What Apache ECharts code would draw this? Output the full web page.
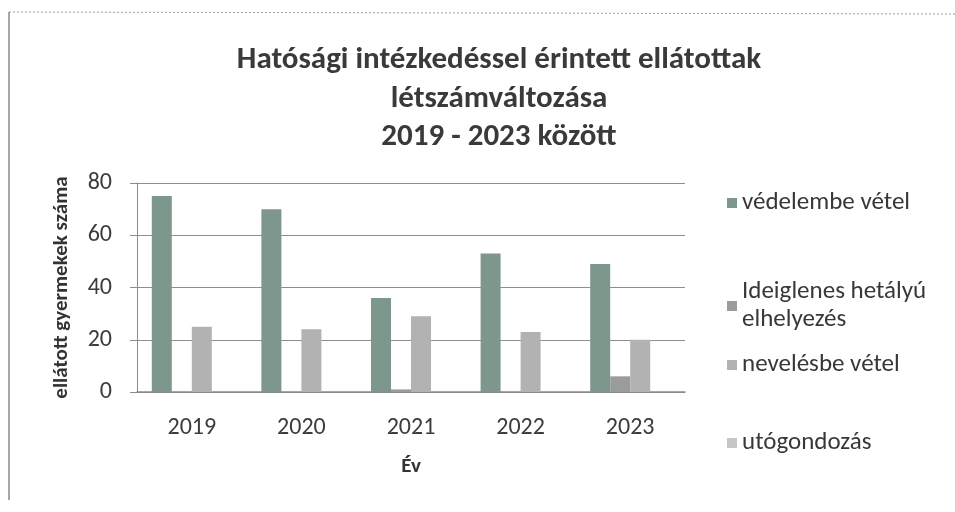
<!DOCTYPE html>
<html><head><meta charset="utf-8">
<script src="https://cdn.jsdelivr.net/npm/echarts@6/dist/echarts.min.js"></script>
<style>html,body{margin:0;padding:0;background:#fff}#c{width:955px;height:512px}</style>
</head><body><div id="c"></div>
<script>
const categories = ['2019', '2020', '2021', '2022', '2023'];
const seriesNames = ['védelembe vétel', 'Ideiglenes hetályú elhelyezés', 'nevelésbe vétel', 'utógondozás'];
const vedelembe = [75, 70, 36, 53, 49];
const ideiglenes = [0, 0, 1, 0, 6];
const neveles = [25, 24, 29, 23, 20];
const utogondozas = [0, 0, 0, 0, 0];
const yTicks = [0, 20, 40, 60, 80];

const font = "Carlito, 'Open Sans', 'Noto Sans', sans-serif";
const colors = ['#7d978c', '#9a9c9b', '#b2b2b2', '#c6c6c6'];
const values = [vedelembe, ideiglenes, neveles, utogondozas];
const legendTops = [184, 273, 346, 424];

const chart = echarts.init(document.getElementById('c'));
chart.setOption({
  backgroundColor: '#ffffff',
  animation: false,
  title: {
    text: 'Hatósági intézkedéssel érintett ellátottak\nlétszámváltozása\n2019 - 2023 között',
    left: 494, top: 36, textAlign: 'center',
    textStyle: { fontFamily: font, fontSize: 31, fontWeight: 'bold', color: '#3a3a3a', lineHeight: 38.5 }
  },
  legend: seriesNames.map((n, i) => ({
    data: [n], orient: 'vertical', left: 722, top: legendTops[i],
    icon: 'rect', itemWidth: 10, itemHeight: 10, itemGap: 4,
    formatter: name => name === 'Ideiglenes hetályú elhelyezés' ? 'Ideiglenes hetályú\nelhelyezés' : name,
    textStyle: { fontFamily: font, fontSize: 25, color: '#383838', lineHeight: 28 }
  })),
  grid: { left: 137, right: 270, top: 183, bottom: 120, containLabel: false },
  xAxis: {
    type: 'category', data: categories,
    name: 'Év', nameLocation: 'middle', nameGap: 64,
    nameTextStyle: { fontFamily: font, fontSize: 21, fontWeight: 'bold', color: '#333333' },
    axisLine: { lineStyle: { color: '#8a8a8a', width: 1.5 } },
    axisTick: { show: false },
    axisLabel: { fontFamily: font, fontSize: 24, color: '#3c3c3c', margin: 24 }
  },
  yAxis: {
    type: 'value', min: 0, max: 80, interval: 20,
    name: 'ellátott gyermekek száma', nameLocation: 'middle', nameGap: 65,
    nameTextStyle: { fontFamily: font, fontSize: 21, fontWeight: 'bold', color: '#333333' },
    axisLine: { show: true, lineStyle: { color: '#8a8a8a' } },
    axisTick: { show: true, length: 7, inside: false, lineStyle: { color: '#8a8a8a' } },
    axisLabel: { fontFamily: font, fontSize: 24, color: '#3c3c3c', margin: 25,
      formatter: v => yTicks.includes(v) ? String(v) : '' },
    splitLine: { lineStyle: { color: '#8e8e8e', width: 1.2 } }
  },
  series: seriesNames.map((n, i) => ({
    name: n, type: 'bar', data: values[i],
    barGap: '0%', barCategoryGap: '27%',
    itemStyle: { color: colors[i] }
  })),
  graphic: [
    { type: 'line', shape: { x1: 9, y1: 12, x2: 9, y2: 500 }, style: { stroke: '#8a8a8a', lineWidth: 1.5 } },
    { type: 'line', shape: { x1: 9, y1: 12, x2: 955, y2: 14 }, style: { stroke: '#9a9a9a', lineWidth: 1, lineDash: [2, 2] } }
  ]
});
</script></body></html>
